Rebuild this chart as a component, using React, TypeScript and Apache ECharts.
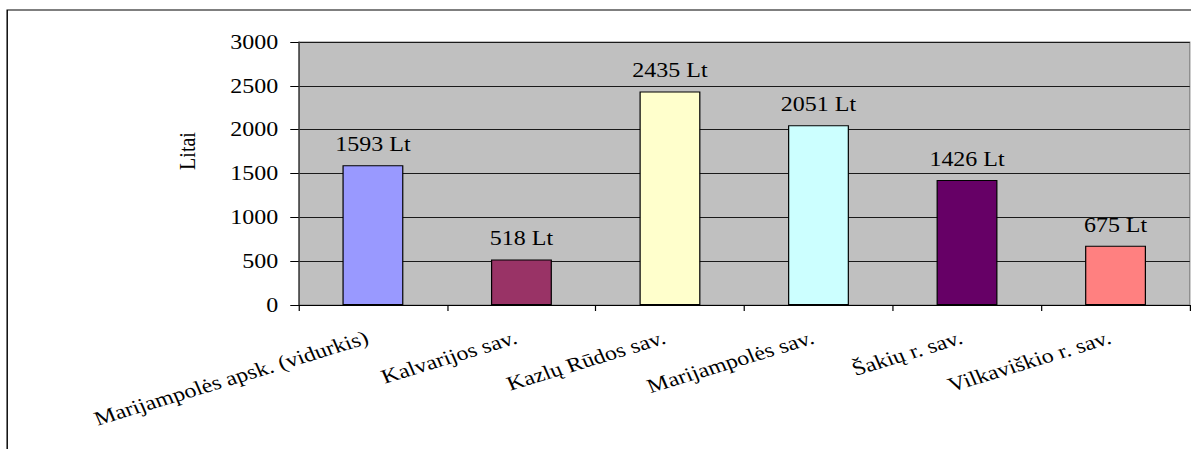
import React, { useEffect, useRef } from "react";
import * as echarts from "echarts";

const categories = [
  "Marijampolės apsk. (vidurkis)",
  "Kalvarijos sav.",
  "Kazlų Rūdos sav.",
  "Marijampolės sav.",
  "Šakių r. sav.",
  "Vilkaviškio r. sav.",
];
const values = [1593, 518, 2435, 2051, 1426, 675];
const barColors = ["#9999ff", "#993366", "#ffffcc", "#ccffff", "#660066", "#ff8080"];
const yTicks = [0, 500, 1000, 1500, 2000, 2500, 3000];
const yName = "Litai";
const unit = "Lt";

const W = 993;
const H = 449;
const S = 1191 / W;
const FONT = "Times New Roman";

export default function App() {
  const ref = useRef<HTMLDivElement>(null);
  useEffect(() => {
    if (!ref.current) return;
    const chart = echarts.init(ref.current, undefined, { renderer: "svg" });
    chart.setOption({
      animation: false,
      backgroundColor: "#ffffff",
      textStyle: { fontFamily: FONT },
      grid: {
        left: 249,
        right: 1,
        top: 42,
        bottom: 144,
        show: true,
        backgroundColor: "#c0c0c0",
        borderColor: "#808080",
        borderWidth: 1,
      },
      graphic: [
        {
          type: "rect",
          shape: { x: 6, y: 10, width: 1200, height: 700 },
          style: { fill: "none", stroke: "#000000", lineWidth: 1.2 },
          silent: true,
          z: 100,
        },
        {
          type: "text",
          x: 156,
          y: 151,
          rotation: Math.PI / 2,
          style: {
            text: yName,
            fontFamily: FONT,
            fontSize: 20,
            fill: "#000000",
            align: "center",
            verticalAlign: "middle",
          },
          z: 100,
        },
      ],
      xAxis: {
        type: "category",
        data: categories,
        axisLine: { show: true, lineStyle: { color: "#000000", width: 1 } },
        axisTick: { show: true, length: 6, alignWithLabel: false, lineStyle: { color: "#000000" } },
        axisLabel: {
          rotate: 20,
          fontSize: 20,
          fontFamily: FONT,
          color: "#000000",
          margin: 30,
          padding: [0, 5, 0, 0],
          interval: 0,
        },
        splitLine: { show: false },
      },
      yAxis: {
        type: "value",
        min: yTicks[0],
        max: yTicks[yTicks.length - 1],
        interval: 500,
        axisLine: { show: true, lineStyle: { color: "#404040", width: 1 } },
        axisTick: { show: true, length: 7, inside: false, lineStyle: { color: "#000000" } },
        axisLabel: {
          fontSize: 20,
          fontFamily: FONT,
          color: "#000000",
          margin: 17,
          formatter: (v: number) => String(v),
        },
        splitLine: { show: true, lineStyle: { color: "#1a1a1a", width: 1 } },
      },
      series: [
        {
          type: "bar",
          data: values.map((v, i) => ({
            value: v,
            itemStyle: { color: barColors[i], borderColor: "#000000", borderWidth: 1 },
          })),
          barWidth: "41%",
          label: {
            show: true,
            position: "top",
            distance: 11,
            fontSize: 20,
            fontFamily: FONT,
            fontWeight: "normal",
            color: "#000000",
            formatter: (p: any) => `${p.value} ${unit}`,
          },
        },
      ],
    });
    return () => chart.dispose();
  }, []);
  return (
    <div
      ref={ref}
      style={{
        position: "absolute",
        left: 0,
        top: 0,
        width: W,
        height: H,
        transform: `scaleX(${S})`,
        transformOrigin: "0 0",
      }}
    />
  );
}
